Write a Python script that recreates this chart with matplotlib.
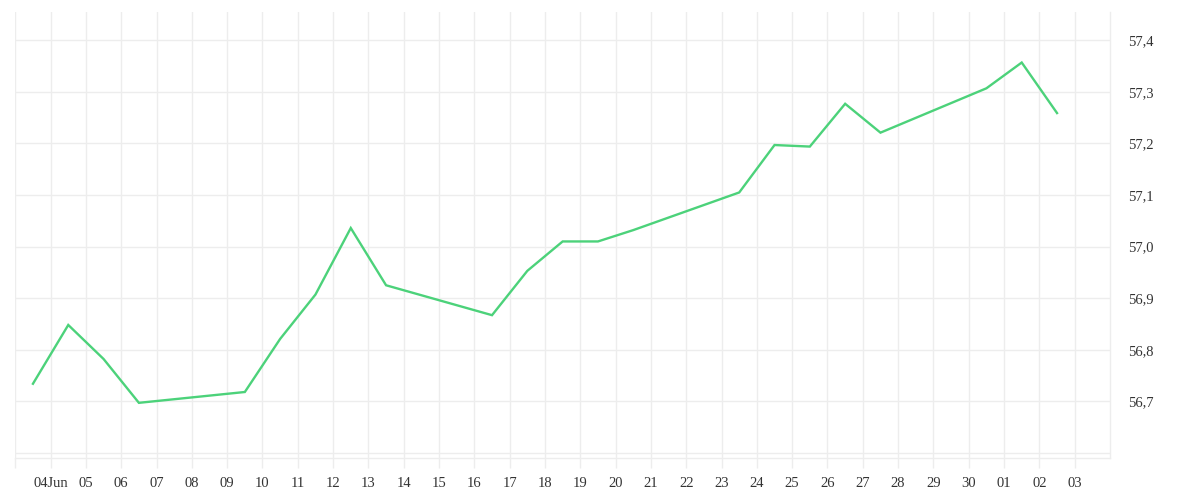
#!/usr/bin/env python3
import pandas as pd
import numpy as np
import matplotlib
matplotlib.use("Agg")
import matplotlib.pyplot as plt
import matplotlib.dates as mdates

# ---- DATA ----
dates = ["2019-06-03", "2019-06-04", "2019-06-05", "2019-06-06",
         "2019-06-09", "2019-06-10", "2019-06-11", "2019-06-12", "2019-06-13",
         "2019-06-16", "2019-06-17", "2019-06-18", "2019-06-19", "2019-06-20",
         "2019-06-23", "2019-06-24", "2019-06-25", "2019-06-26", "2019-06-27",
         "2019-06-30", "2019-07-01", "2019-07-02"]
values = [56.734, 56.848, 56.782, 56.697,
          56.718, 56.821, 56.907, 57.036, 56.925,
          56.867, 56.953, 57.010, 57.010, 57.032,
          57.105, 57.197, 57.194, 57.277, 57.221,
          57.307, 57.357, 57.259]

tick_dates = pd.date_range("2019-06-03", "2019-07-03", freq="D")
tick_labels = ["", "04Jun", "05", "06", "07", "08", "09", "10", "11", "12",
               "13", "14", "15", "16", "17", "18", "19", "20", "21", "22",
               "23", "24", "25", "26", "27", "28", "29", "30", "01", "02", "03"]
y_ticks = [56.6, 56.7, 56.8, 56.9, 57.0, 57.1, 57.2, 57.3, 57.4]
y_labels = ["", "56,7", "56,8", "56,9", "57,0", "57,1", "57,2", "57,3", "57,4"]

# ---- STYLE ----
line_color = "#4cd27a"
grid_color = "#ededed"
text_color = "#333333"
plt.rcParams["font.family"] = ["Liberation Serif", "DejaVu Serif"]

# points sit at mid-day
x = pd.to_datetime(dates) + pd.Timedelta(hours=12)

fig = plt.figure(figsize=(12, 5), dpi=100)
ax = fig.add_axes([0.01275, 0.084, 0.925 - 0.01275, 0.976 - 0.084])

ax.plot(x, values, color=line_color, linewidth=1.7, solid_joinstyle="miter", zorder=3)

ax.set_xlim(pd.Timestamp("2019-06-03"), pd.Timestamp("2019-07-04"))
ax.set_ylim(56.590, 57.455)

ax.set_xticks(tick_dates, labels=tick_labels)
ax.set_yticks(y_ticks, labels=y_labels)

ax.yaxis.tick_right()
ax.tick_params(axis="y", length=0, pad=13, labelsize=10.5, labelcolor=text_color)
ax.tick_params(axis="x", length=7.2, width=1, color=grid_color, pad=6.5,
               labelsize=10.5, labelcolor=text_color)

ax.grid(True, color=grid_color, linewidth=1)
ax.set_axisbelow(True)

for side in ["top", "left"]:
    ax.spines[side].set_visible(False)
for side in ["bottom", "right"]:
    ax.spines[side].set_color(grid_color)
    ax.spines[side].set_linewidth(1)

fig.savefig("out.png", dpi=100)
